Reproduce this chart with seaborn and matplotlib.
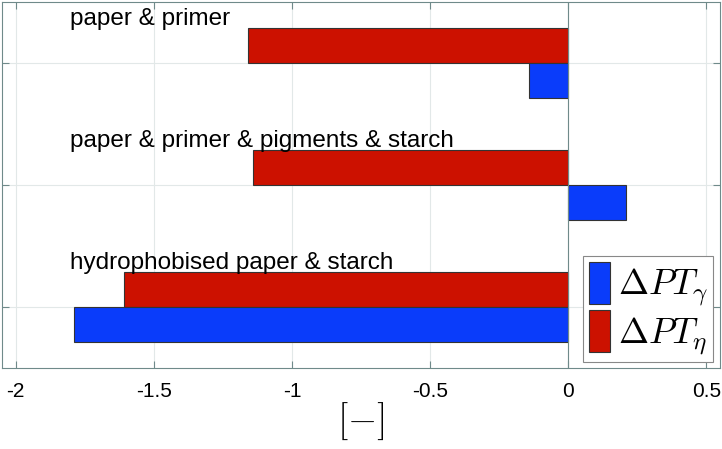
import pandas as pd
import matplotlib
matplotlib.use("Agg")
import matplotlib.pyplot as plt
import seaborn as sns
from matplotlib.patches import Patch

# data
groups = ["paper & primer",
          "paper & primer & pigments & starch",
          "hydrophobised paper & starch"]
dpt_gamma = [-0.14, 0.21, -1.79]
dpt_eta = [-1.16, -1.14, -1.61]
series_names = [r"$\Delta PT_\gamma$", r"$\Delta PT_\eta$"]
x_ticks = [-2, -1.5, -1, -0.5, 0, 0.5]
x_tick_labels = ["-2", "-1.5", "-1", "-0.5", "0", "0.5"]

blue = "#0a3cfa"
red = "#cc1100"
axis_col = "#6f8a8a"

df = pd.DataFrame({
    "group": groups * 2,
    "value": dpt_eta + dpt_gamma,
    "series": [series_names[1]] * 3 + [series_names[0]] * 3,
})

sns.set_style("white")
plt.rcParams["font.family"] = ["Liberation Sans", "DejaVu Sans"]
plt.rcParams["mathtext.fontset"] = "cm"
plt.rcParams["text.color"] = "black"
plt.rcParams["xtick.labelcolor"] = "black"

fig = plt.figure(figsize=(7.22, 4.49), dpi=100)
ax = fig.add_axes([2 / 722, 1 - 368 / 449, 718 / 722, 366 / 449])

sns.barplot(data=df, x="value", y="group", hue="series", orient="h",
            hue_order=[series_names[1], series_names[0]],
            palette=[red, blue], width=0.57, dodge=True,
            edgecolor="#333333", linewidth=0.8, saturation=1,
            ax=ax, legend=False)

ax.set_xlim(-2.05, 0.55)
ax.set_ylim(2.5, -0.5)
ax.set_xticks(x_ticks)
ax.set_xticklabels(x_tick_labels, fontsize=15)
ax.set_yticks(range(len(groups)))
ax.set_yticklabels([])
ax.set_ylabel("")
ax.set_xlabel("")
ax.grid(True, color="#e2e8e8", linewidth=0.8)
ax.set_axisbelow(True)
ax.axvline(0, color=axis_col, linewidth=0.8, zorder=1.5)
ax.tick_params(axis="both", direction="in", length=5, color=axis_col,
               left=True, right=True, top=True, bottom=True, pad=10)
for s in ax.spines.values():
    s.set_color(axis_col)
    s.set_linewidth(0.8)

# x label placed by hand so it fits the bottom strip
fig.text(361 / 722, 1 - 421 / 449, r"$[-]$", fontsize=27,
         ha="center", va="center", color="black")

for i, name in enumerate(groups):
    ax.text(-1.805, i - 0.36, name, fontsize=17.5, va="center", ha="left",
            color="black")

# legend: gamma first, eta second
handles = [Patch(facecolor=blue, edgecolor="#333333", linewidth=0.8),
           Patch(facecolor=red, edgecolor="#333333", linewidth=0.8)]
leg = ax.legend(handles, series_names, loc="lower right",
                bbox_to_anchor=(711 / 718, 6 / 366),
                fontsize=26, frameon=True, fancybox=False, framealpha=1,
                handlelength=0.6, handleheight=1.4, handletextpad=0.2,
                borderpad=0.15, labelspacing=0.05, borderaxespad=0.0)
leg.get_frame().set_edgecolor("#888888")
leg.get_frame().set_linewidth(0.8)

fig.savefig("out.png", dpi=100)
